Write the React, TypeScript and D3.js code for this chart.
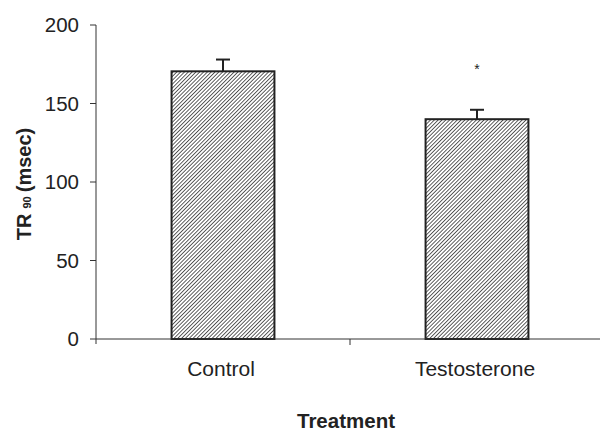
import React from 'react'
import * as d3 from 'd3'

const categories = ['Control', 'Testosterone']
const means = [170.5, 140]
const errors = [7.5, 6]
const marks = ['', '*']
const yTicks = [0, 50, 100, 150, 200]

export default function App() {
  const width = 600
  const height = 431
  const margin = { top: 25, right: -4, bottom: 92, left: 96 }
  const y0 = height - margin.bottom

  const x = d3.scaleBand()
    .domain(categories)
    .range([margin.left, width - margin.right])
    .paddingInner(0.595)
    .paddingOuter(0.2975)

  const y = d3.scaleLinear()
    .domain([0, 200])
    .range([y0, margin.top])

  const font = 'Liberation Sans, Arial, sans-serif'
  const divider = x(categories[1])! - x.step() * x.paddingInner() / 2

  return (
    <svg width={width} height={height} style={{ position: 'absolute', left: 0, top: 0 }}>
      <defs>
        <pattern id="hatch" patternUnits="userSpaceOnUse" width="2.7" height="2.7" patternTransform="rotate(45)">
          <rect width="2.7" height="2.7" fill="#fff" />
          <line x1="0" y1="0" x2="0" y2="2.7" stroke="#2a2a2a" strokeWidth="1.5" />
        </pattern>
      </defs>
      <rect width={width} height={height} fill="#fff" />

      {/* bars */}
      {categories.map((c, i) => {
        const bx = x(c)!
        const cx = bx + x.bandwidth() / 2
        const top = y(means[i])
        const cap = y(means[i] + errors[i])
        return (
          <g key={c}>
            <line x1={cx} x2={cx} y1={top} y2={cap} stroke="#222" strokeWidth={2} />
            <line x1={cx - 7} x2={cx + 7} y1={cap} y2={cap} stroke="#222" strokeWidth={2} />
            <rect x={bx} y={top} width={x.bandwidth()} height={y0 - top}
              fill="url(#hatch)" stroke="#222" strokeWidth={2} />
            {marks[i] && (
              <text x={cx} y={cap - 36} textAnchor="middle"
                fontFamily={font} fontSize={14} fill="#222">{marks[i]}</text>
            )}
          </g>
        )
      })}

      {/* y axis */}
      <line x1={margin.left} x2={margin.left} y1={y(200)} y2={y0 + 5} stroke="#333" strokeWidth={1} />
      {yTicks.map(t => (
        <g key={t}>
          <line x1={margin.left - 6} x2={margin.left} y1={y(t)} y2={y(t)} stroke="#333" />
          <text x={margin.left - 17} y={y(t)} dy="0.36em" textAnchor="end"
            fontFamily={font} fontSize={20.5} fill="#222">{t}</text>
        </g>
      ))}

      {/* x axis */}
      <line x1={margin.left} x2={width} y1={y0} y2={y0} stroke="#333" strokeWidth={1} />
      <line x1={divider} x2={divider} y1={y0} y2={y0 + 6} stroke="#333" />
      {categories.map(c => (
        <text key={c} x={x(c)! + x.bandwidth() / 2 - 2} y={y0 + 37} textAnchor="middle"
          fontFamily={font} fontSize={21} fill="#222">{c}</text>
      ))}

      <text x={346} y={y0 + 89} textAnchor="middle" fontFamily={font} fontSize={20.5}
        fontWeight="bold" fill="#222">Treatment</text>

      <text transform={`translate(31,${184}) rotate(-90)`} textAnchor="middle"
        fontFamily={font} fontSize={20} fontWeight="bold" fill="#222">
        TR<tspan fontSize={11} dx="5">90</tspan><tspan dx="4">(msec)</tspan>
      </text>
    </svg>
  )
}
